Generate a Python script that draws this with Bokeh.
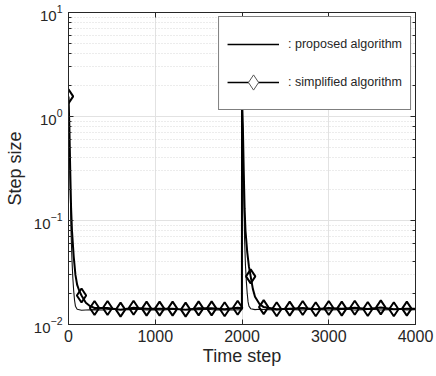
from bokeh.plotting import figure
from bokeh.models import (LogAxis, LinearAxis, Legend, LegendItem, FixedTicker,
                          CustomJSTickFormatter)
from bokeh.embed import file_html
from bokeh.resources import INLINE

# ---------------- data ----------------
x_ticks = [0, 1000, 2000, 3000, 4000]

# proposed algorithm (thin line)
prop_t = [0, 10, 20, 30, 40, 50, 60, 70, 80, 100, 150, 200, 300, 400, 500, 600, 700, 800, 900,
          1000, 1100, 1200, 1300, 1400, 1500, 1600, 1700, 1800, 1900, 1999,
          2000, 2010, 2020, 2030, 2040, 2050, 2060, 2070, 2080, 2100, 2150, 2200, 2300, 2400,
          2500, 2600, 2700, 2800, 2900, 3000, 3100, 3200, 3300, 3400, 3500, 3600, 3700, 3800,
          3900, 4000]
prop_v = [1.50, 0.60, 0.20, 0.075, 0.042, 0.028, 0.021, 0.017, 0.0150, 0.0140, 0.0137, 0.0138,
          0.0139, 0.0138, 0.0140, 0.0138, 0.0139, 0.0140, 0.0138,
          0.0139, 0.0138, 0.0140, 0.0139, 0.0138, 0.0139, 0.0140, 0.0138, 0.0139, 0.0138, 0.0139,
          1.50, 0.60, 0.20, 0.065, 0.037, 0.026, 0.020, 0.0165, 0.0150, 0.0142, 0.0139, 0.0140,
          0.0139, 0.0138, 0.0140, 0.0139, 0.0138, 0.0140, 0.0139, 0.0138, 0.0139, 0.0140, 0.0138,
          0.0139, 0.0140, 0.0138, 0.0139, 0.0140, 0.0138, 0.0139]

# simplified algorithm (thick line, diamond every 150 steps)
simp_t = [0, 10, 20, 30, 40, 60, 80, 100, 125, 150, 200, 250, 300, 450, 600, 750, 900, 1050,
          1200, 1350, 1500, 1650, 1800, 1950, 1999,
          2000, 2010, 2020, 2030, 2040, 2060, 2080, 2100, 2125, 2150, 2200, 2250, 2400, 2550,
          2700, 2850, 3000, 3150, 3300, 3450, 3600, 3750, 3900, 4000]
simp_v = [1.56, 0.80, 0.30, 0.13, 0.080, 0.045, 0.030, 0.024, 0.021, 0.019, 0.0162, 0.0150,
          0.0144, 0.0144, 0.0139, 0.0145, 0.0142, 0.0142, 0.0142, 0.0139, 0.0143, 0.0143,
          0.0140, 0.0145, 0.0143,
          1.56, 0.80, 0.30, 0.13, 0.080, 0.050, 0.036, 0.029, 0.022, 0.0185, 0.0158, 0.0147,
          0.0140, 0.0142, 0.0144, 0.0140, 0.0144, 0.0142, 0.0145, 0.0141, 0.0146, 0.0140,
          0.0142, 0.0142]
marker_step = 150

legend_labels = [": proposed algorithm", ": simplified algorithm"]

# ---------------- figure ----------------
FONT = "Liberation Sans"
TXT = "#262626"
NAN = float("nan")

p = figure(width=434, height=374, x_range=(0, 4000), y_range=(0.01, 10),
           y_axis_type="log", output_backend="svg", toolbar_location=None,
           min_border_left=68, min_border_right=19, min_border_top=12, min_border_bottom=50)
p.background_fill_color = "white"
p.border_fill_color = "white"
p.outline_line_color = TXT
p.outline_line_width = 1

# grids
p.xgrid.ticker = FixedTicker(ticks=x_ticks)
p.xgrid.grid_line_color = "#e2e2e2"
p.ygrid.grid_line_color = "#e2e2e2"
p.ygrid.minor_grid_line_color = "#d8d8d8"
p.ygrid.minor_grid_line_dash = "1 2"

def style_axis(ax, labels=True):
    ax.axis_line_color = TXT
    ax.major_tick_line_color = TXT
    ax.minor_tick_line_color = TXT
    ax.major_tick_in = 5
    ax.major_tick_out = 0
    ax.minor_tick_in = 3
    ax.minor_tick_out = 0
    ax.major_label_text_font = FONT
    ax.major_label_text_color = TXT
    ax.axis_label_text_font = FONT
    ax.axis_label_text_color = TXT
    ax.axis_label_text_font_style = "normal"
    if not labels:
        ax.formatter = CustomJSTickFormatter(code="return ''")
        ax.major_label_standoff = 0
        ax.axis_label_standoff = 0

xa = p.xaxis[0]
style_axis(xa)
xa.ticker = FixedTicker(ticks=x_ticks)
xa.major_label_text_font_size = "16px"
xa.major_label_standoff = 5
xa.axis_label = "Time step"
xa.axis_label_text_font_size = "18px"
xa.axis_label_standoff = 1

ya = p.yaxis[0]
style_axis(ya)
ya.major_label_text_font_size = "15px"
ya.major_label_standoff = 6
ya.axis_label = "Step size"
ya.axis_label_text_font_size = "18px"
ya.axis_label_standoff = 6

top = LinearAxis(ticker=FixedTicker(ticks=x_ticks))
style_axis(top, labels=False)
top.minor_tick_in = 0
p.add_layout(top, "above")

right = LogAxis()
style_axis(right, labels=False)
p.add_layout(right, "right")

# ---------------- data glyphs ----------------
p.line(prop_t, prop_v, line_color="#111111", line_width=1.1)
p.line(simp_t, simp_v, line_color="black", line_width=2)
mk_t = [t for t in simp_t if t % marker_step == 0]
mk_v = [v for t, v in zip(simp_t, simp_v) if t % marker_step == 0]
p.scatter(mk_t, mk_v, marker="diamond", size=14, line_color="black", line_width=2,
          fill_alpha=0)

# ---------------- legend (dedicated renderers with no visible data) ----------------
lg_line1 = p.line(x=[NAN], y=[NAN], line_color="black", line_width=1.3)
lg_line2 = p.line(x=[NAN], y=[NAN], line_color="black", line_width=1.3)
lg_mark2 = p.scatter(x=[NAN], y=[NAN], marker="diamond",
                     line_color="#555555", line_width=1, fill_color="white")

legend = Legend(items=[LegendItem(label=legend_labels[0], renderers=[lg_line1]),
                       LegendItem(label=legend_labels[1], renderers=[lg_line2, lg_mark2])],
                location="top_right")
legend.label_text_font = FONT
legend.label_text_font_size = "12.5px"
legend.label_text_color = TXT
legend.glyph_width = 52
legend.glyph_height = 38
legend.label_height = 34
legend.spacing = 0
legend.padding = 8
legend.margin = 4
legend.label_standoff = 9
legend.border_line_color = "black"
legend.border_line_width = 1.6
legend.background_fill_color = "white"
legend.background_fill_alpha = 1
p.add_layout(legend)

open("out.html", "w").write(file_html(p, INLINE))
